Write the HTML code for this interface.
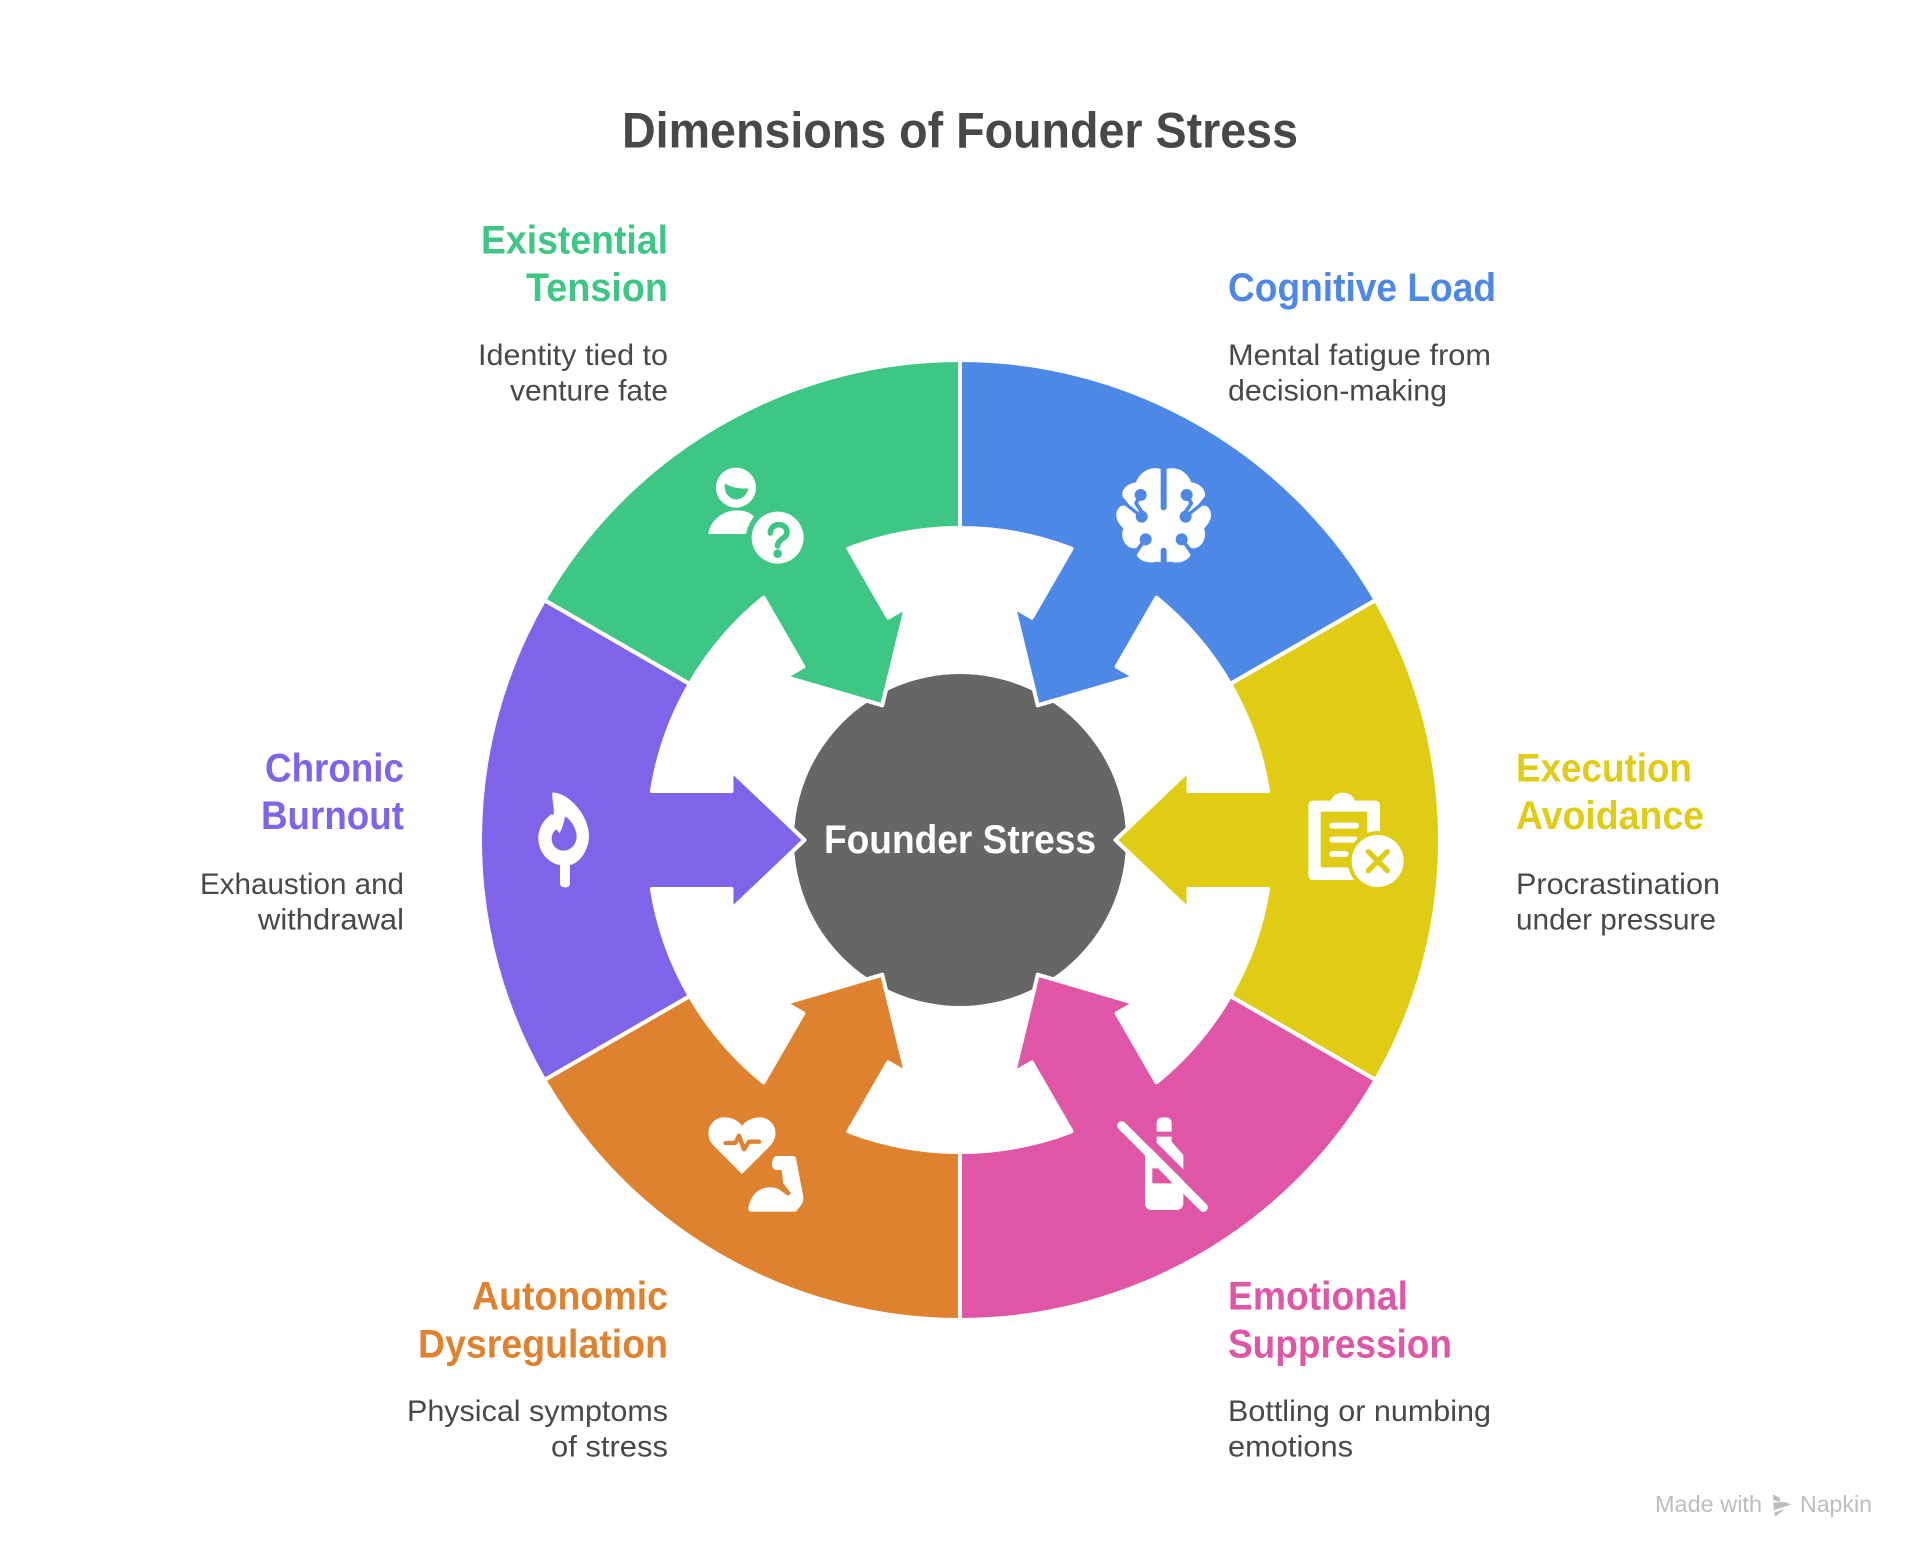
<!DOCTYPE html>
<html>
<head>
<meta charset="utf-8">
<style>
html,body{margin:0;padding:0;background:#fff}
svg{display:block}
text{font-family:"Liberation Sans",sans-serif}
.h{font-weight:700;font-size:39.5px}
.b{font-size:29.5px;fill:#484848}
</style>
</head>
<body>
<svg width="1920" height="1560" viewBox="0 0 1920 1560" xmlns="http://www.w3.org/2000/svg">
<rect width="1920" height="1560" fill="#fff"/>
<defs>
<path id="seg" d="M-240,-415.69 A480,480 0 0 1 240,-415.69 L156,-270.2 A312,312 0 0 0 49,-308.1 L49,-228.5 L69.5,-228.5 L0,-155.5 L-69.5,-228.5 L-49,-228.5 L-49,-308.1 A312,312 0 0 0 -156,-270.2 Z" stroke="#fff" stroke-width="4" stroke-linejoin="round"/>
</defs>

<text x="960" y="147.5" text-anchor="middle" font-weight="700" font-size="50" fill="#484848" textLength="676" lengthAdjust="spacingAndGlyphs">Dimensions of Founder Stress</text>

<circle cx="960" cy="840" r="166" fill="#666666"/>
<g transform="translate(960,840)">
<use href="#seg" transform="rotate(30)" fill="#4E88E7"/>
<use href="#seg" transform="rotate(90)" fill="#E0CB15"/>
<use href="#seg" transform="rotate(150)" fill="#DF56A7"/>
<use href="#seg" transform="rotate(210)" fill="#DF8230"/>
<use href="#seg" transform="rotate(270)" fill="#7F64EA"/>
<use href="#seg" transform="rotate(330)" fill="#3EC684"/>
</g>
<text x="960" y="853" text-anchor="middle" class="h" fill="#fff" textLength="272" lengthAdjust="spacingAndGlyphs">Founder Stress</text>

<!-- brain -->
<g transform="translate(1100,450) scale(.3333)">
<path fill="#fff" d="M191,62 C175,50 128,48 108,97 C80,100 62,122 68,140 L88,165 L62,168 C42,185 45,212 70,235 C60,262 75,292 100,295 L125,292 L110,315 C120,335 150,342 170,335 L191,338 L212,335 C232,342 262,335 272,315 L257,292 L282,295 C307,292 322,262 312,235 C337,212 340,185 320,168 L294,165 L314,140 C320,122 302,100 274,97 C254,48 207,50 191,62 Z"/>
<g fill="#4E88E7" stroke="#4E88E7" stroke-linecap="round" stroke-linejoin="round">
<path d="M191,50 V172" stroke-width="18" fill="none"/>
<path d="M191,302 V350" stroke-width="18" fill="none"/>
<g>
<circle cx="122" cy="135" r="18" stroke="none"/>
<path d="M122,135 L108,160 L125,185" stroke-width="11" fill="none"/>
<circle cx="125" cy="200" r="18" stroke="none"/>
<path d="M74,160 L125,200" stroke-width="10" fill="none"/>
<circle cx="137" cy="268" r="18" stroke="none"/>
<path d="M137,268 L110,302" stroke-width="11" fill="none"/>
</g>
<g transform="translate(382,0) scale(-1,1)">
<circle cx="122" cy="135" r="18" stroke="none"/>
<path d="M122,135 L108,160 L125,185" stroke-width="11" fill="none"/>
<circle cx="125" cy="200" r="18" stroke="none"/>
<path d="M74,160 L125,200" stroke-width="10" fill="none"/>
<circle cx="137" cy="268" r="18" stroke="none"/>
<path d="M137,268 L110,302" stroke-width="11" fill="none"/>
</g>
</g>
</g>

<!-- existential -->
<g transform="translate(660,440) scale(.3333)">
<circle cx="228" cy="143" r="60" fill="#fff"/>
<path d="M195,130 C215,143 240,147 265,145 C262,165 245,178 228,178 C208,178 190,158 195,130 Z" fill="#3EC684"/>
<path d="M145,282 C150,240 195,205 240,212 C260,212 275,222 282,230 C270,245 262,265 258,282 Z" fill="#fff"/>
<circle cx="353" cy="293" r="78" fill="#fff"/>
<path d="M331,279 C331,248 378,245 381,275 C383,296 353,295 353,318" fill="none" stroke="#3EC684" stroke-width="17" stroke-linecap="round"/>
<circle cx="353" cy="341" r="13" fill="#3EC684"/>
</g>

<!-- clipboard -->
<g transform="translate(1280,770) scale(.3333)">
<path fill="#fff" d="M100,92 H152 C165,60 212,60 225,92 H285 Q300,92 300,107 V315 Q300,330 285,330 H100 Q85,330 85,315 V107 Q85,92 100,92 Z"/>
<rect x="122" y="125" width="140" height="167" rx="5" fill="#E0CB15"/>
<g stroke="#fff" stroke-width="18" stroke-linecap="round"><path d="M157,167 H228 M157,209 H225 M157,252 H197"/></g>
<circle cx="293" cy="273" r="90" fill="#E0CB15"/>
<circle cx="293" cy="273" r="78" fill="#fff"/>
<path d="M265,245 L322,302 M322,245 L265,302" stroke="#E0CB15" stroke-width="16" stroke-linecap="round"/>
</g>

<!-- bottle -->
<g transform="translate(1090,1090) scale(.3333)">
<path fill="#fff" d="M200,125 V100 Q200,82 218,82 H227 Q245,82 245,100 V125 Z"/>
<path fill="#fff" d="M200,140 H245 V155 L280,195 V338 Q280,360 258,360 H187 Q165,360 165,338 V195 L200,155 Z"/>
<polygon points="187,235 205,235 248,280 187,280" fill="#DF56A7"/>
<path d="M150,125 L330,305" stroke="#DF56A7" stroke-width="24"/>
<path d="M95,107 L340,352" stroke="#fff" stroke-width="27" stroke-linecap="round"/>
</g>

<!-- heart and arm -->
<g transform="translate(690,1090) scale(.3333)">
<path fill="#fff" d="M156,252 L72,168 C35,130 65,80 105,82 C130,82 148,95 156,108 C165,95 183,82 208,82 C250,82 275,130 240,168 Z"/>
<path d="M107,159 H136 L147,137 L162,178 L177,155 H207" fill="none" stroke="#DF8230" stroke-width="13" stroke-linecap="round" stroke-linejoin="round"/>
<path fill="#fff" d="M258,198 H308 Q316,198 318,205 L340,320 Q342,335 330,350 L318,365 H185 Q172,365 176,350 C185,310 210,290 245,292 C265,292 280,308 290,315 Q300,320 302,308 L280,280 L275,240 H260 Q245,238 246,222 Q246,205 258,198 Z"/>
</g>

<!-- flame -->
<g transform="translate(520,770) scale(.3333)">
<path fill="#fff" fill-rule="evenodd" d="M97,68 C140,65 205,130 207,195 C207,250 170,283 150,285 V340 Q150,352 135,352 Q120,352 120,340 V285 C85,280 55,245 55,205 C55,175 70,150 95,132 L100,137 C105,115 95,90 97,68 Z M135,140 C150,145 170,175 170,200 C170,225 150,242 132,242 C110,242 95,225 95,207 C95,195 100,182 110,178 L118,190 C128,175 132,155 135,140 Z"/>
</g>

<!-- labels right -->
<text x="1228" y="301" class="h" fill="#4E88E7" textLength="268" lengthAdjust="spacingAndGlyphs">Cognitive Load</text>
<text x="1228" y="365" class="b" textLength="263" lengthAdjust="spacingAndGlyphs">Mental fatigue from</text>
<text x="1228" y="400.5" class="b" textLength="219" lengthAdjust="spacingAndGlyphs">decision-making</text>

<text x="1516" y="781.5" class="h" fill="#E0CB15" textLength="176" lengthAdjust="spacingAndGlyphs">Execution</text>
<text x="1516" y="829" class="h" fill="#E0CB15" textLength="188" lengthAdjust="spacingAndGlyphs">Avoidance</text>
<text x="1516" y="894" class="b" textLength="204" lengthAdjust="spacingAndGlyphs">Procrastination</text>
<text x="1516" y="929.5" class="b" textLength="200" lengthAdjust="spacingAndGlyphs">under pressure</text>

<text x="1228" y="1309.5" class="h" fill="#DF56A7" textLength="180" lengthAdjust="spacingAndGlyphs">Emotional</text>
<text x="1228" y="1357.5" class="h" fill="#DF56A7" textLength="224" lengthAdjust="spacingAndGlyphs">Suppression</text>
<text x="1228" y="1421" class="b" textLength="263" lengthAdjust="spacingAndGlyphs">Bottling or numbing</text>
<text x="1228" y="1456.5" class="b" textLength="125" lengthAdjust="spacingAndGlyphs">emotions</text>

<!-- labels left -->
<g text-anchor="end">
<text x="668" y="253.5" class="h" fill="#3EC684" textLength="187" lengthAdjust="spacingAndGlyphs">Existential</text>
<text x="668" y="301" class="h" fill="#3EC684" textLength="142" lengthAdjust="spacingAndGlyphs">Tension</text>
<text x="668" y="365" class="b" textLength="190" lengthAdjust="spacingAndGlyphs">Identity tied to</text>
<text x="668" y="400.5" class="b" textLength="158" lengthAdjust="spacingAndGlyphs">venture fate</text>

<text x="404" y="781.5" class="h" fill="#7F64EA" textLength="139" lengthAdjust="spacingAndGlyphs">Chronic</text>
<text x="404" y="829" class="h" fill="#7F64EA" textLength="143" lengthAdjust="spacingAndGlyphs">Burnout</text>
<text x="404" y="894" class="b" textLength="204" lengthAdjust="spacingAndGlyphs">Exhaustion and</text>
<text x="404" y="929.5" class="b" textLength="146" lengthAdjust="spacingAndGlyphs">withdrawal</text>

<text x="668" y="1309.5" class="h" fill="#DF8230" textLength="196" lengthAdjust="spacingAndGlyphs">Autonomic</text>
<text x="668" y="1357.5" class="h" fill="#DF8230" textLength="250" lengthAdjust="spacingAndGlyphs">Dysregulation</text>
<text x="668" y="1421" class="b" textLength="261" lengthAdjust="spacingAndGlyphs">Physical symptoms</text>
<text x="668" y="1456.5" class="b" textLength="117" lengthAdjust="spacingAndGlyphs">of stress</text>
</g>

<!-- watermark -->
<text x="1655" y="1512" font-size="23" fill="#BDBDBD" textLength="107" lengthAdjust="spacingAndGlyphs">Made with</text>
<text x="1800" y="1512" font-size="23" fill="#BDBDBD" textLength="72" lengthAdjust="spacingAndGlyphs">Napkin</text>
<g transform="translate(1640,1480) scale(.3333)" fill="#BDBDBD">
<polygon points="400,43 420,54 420,66 400,60"/>
<polygon points="400,68 436,66 454,74 402,90"/>
<polygon points="402,98 436,86 406,110"/>
</g>
</svg>
</body>
</html>
